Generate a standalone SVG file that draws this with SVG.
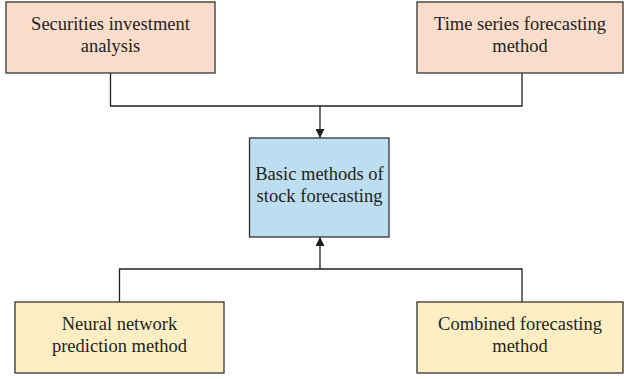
<svg xmlns="http://www.w3.org/2000/svg" width="624" height="379" viewBox="0 0 624 379">
<style>
.box{stroke:#333;stroke-width:1.3}
.top{fill:#fcdccb}
.mid{fill:#bddef0}
.bot{fill:#fdefc3}
text{font-family:"Liberation Serif","Times New Roman",serif;font-size:18.5px;fill:#231f20;text-anchor:middle}
.conn{fill:none;stroke:#231f20;stroke-width:1.3}
</style>
<defs>
<marker id="arr" markerWidth="9" markerHeight="9" refX="9" refY="4.5" orient="auto" markerUnits="userSpaceOnUse">
<path d="M0,0 L9,4.5 L0,9 Z" fill="#231f20"/>
</marker>
</defs>
<rect width="624" height="379" fill="#fff"/>
<g id="connectors">
<polyline class="conn" points="110.5,73 110.5,106 522,106 522,73"/>
<line class="conn" x1="320" y1="106" x2="320" y2="138" marker-end="url(#arr)"/>
<polyline class="conn" points="119.5,302 119.5,269 522,269 522,302"/>
<line class="conn" x1="320" y1="269" x2="320" y2="237" marker-end="url(#arr)"/>
</g>
<g id="securities">
<rect class="box top" x="6" y="2" width="209" height="71"/>
<text x="110.5" y="30">Securities investment</text>
<text x="110.5" y="52">analysis</text>
</g>
<g id="timeseries">
<rect class="box top" x="417" y="2" width="206" height="71"/>
<text x="520" y="30">Time series forecasting</text>
<text x="520" y="52">method</text>
</g>
<g id="basic">
<rect class="box mid" x="249.5" y="138" width="139.5" height="99"/>
<text x="319.5" y="180">Basic methods of</text>
<text x="319.5" y="202">stock forecasting</text>
</g>
<g id="neural">
<rect class="box bot" x="15" y="302" width="209" height="71"/>
<text x="119.5" y="330">Neural network</text>
<text x="119.5" y="352">prediction method</text>
</g>
<g id="combined">
<rect class="box bot" x="417" y="302" width="206" height="71"/>
<text x="520" y="330">Combined forecasting</text>
<text x="520" y="352">method</text>
</g>
</svg>
